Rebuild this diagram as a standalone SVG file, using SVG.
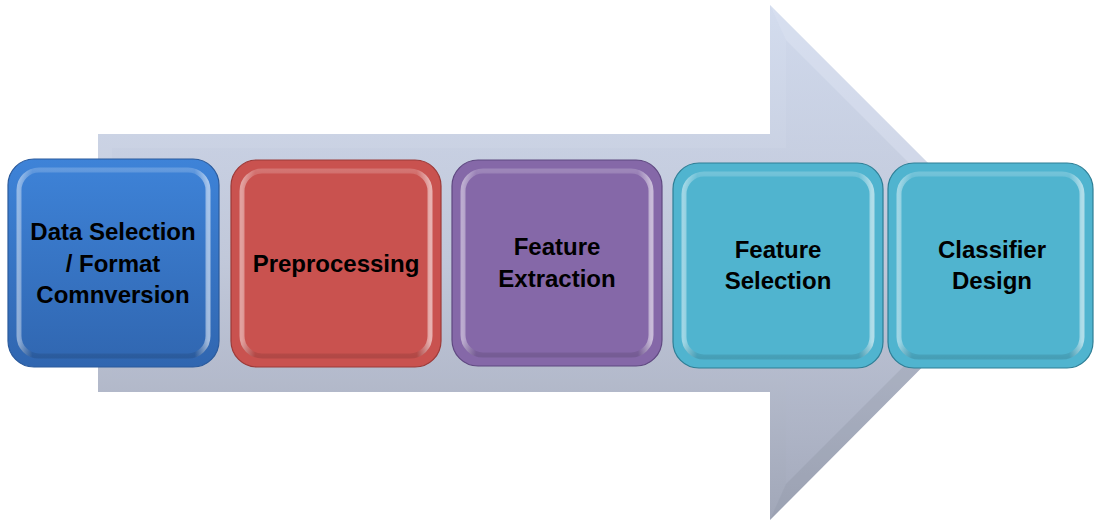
<svg xmlns="http://www.w3.org/2000/svg" width="1094" height="520" viewBox="0 0 1094 520">
<defs>
<linearGradient id="arrowG" x1="0" y1="0" x2="0" y2="1">
<stop offset="0" stop-color="#d3dcee"/>
<stop offset="0.5" stop-color="#c3cadb"/>
<stop offset="1" stop-color="#a1a7b8"/>
</linearGradient>
<linearGradient id="arrowIn" x1="0" y1="0" x2="0" y2="1">
<stop offset="0" stop-color="#cdd6e9"/>
<stop offset="0.5" stop-color="#c0c7d9"/>
<stop offset="1" stop-color="#a8aec0"/>
</linearGradient>
<linearGradient id="blueG" x1="0" y1="0" x2="0" y2="1">
<stop offset="0" stop-color="#3e83d8"/>
<stop offset="1" stop-color="#3066b0"/>
</linearGradient>
<linearGradient id="rim" x1="0" y1="0" x2="1" y2="0">
<stop offset="0" stop-color="#ffffff" stop-opacity="0.45"/>
<stop offset="0.07" stop-color="#ffffff" stop-opacity="0"/>
<stop offset="0.93" stop-color="#ffffff" stop-opacity="0"/>
<stop offset="1" stop-color="#ffffff" stop-opacity="0.55"/>
</linearGradient>
<linearGradient id="rimV" x1="0" y1="0" x2="0" y2="1">
<stop offset="0" stop-color="#ffffff" stop-opacity="0.2"/>
<stop offset="0.08" stop-color="#ffffff" stop-opacity="0"/>
<stop offset="0.92" stop-color="#000000" stop-opacity="0"/>
<stop offset="1" stop-color="#000000" stop-opacity="0.12"/>
</linearGradient>
</defs>
<style>
.outer{stroke-width:1.2}
.txt{font-family:"Liberation Sans",Arial,sans-serif;font-weight:bold;font-size:24px;fill:#000;text-anchor:middle}
.rimH{fill:none;stroke:url(#rim);stroke-width:5}
.rimV{fill:none;stroke:url(#rimV);stroke-width:5}
</style>
<g id="arrow">
<polygon points="98,134 770,134 770,5 1027,262 770,520 770,392 98,392" fill="url(#arrowG)"/>
<polygon points="112,148 786,148 786,40 1008,262 786,484 786,378 112,378" fill="url(#arrowIn)" opacity="0.8"/>
<polygon points="770,5 786,40 1008,262 1027,262" fill="#dfe6f4" opacity="0.35"/>
<polygon points="770,520 786,484 1008,262 1027,262" fill="#8e94a6" opacity="0.3"/>
</g>
<g id="connectors"></g>
<g id="node1">
<rect class="outer" x="8" y="159" width="211" height="208" rx="26" fill="url(#blueG)" stroke="#2a5a9c"/>
<rect class="rimH" x="19" y="170" width="189" height="186" rx="20"/>
<rect class="rimV" x="19" y="170" width="189" height="186" rx="20"/>
<text class="txt" x="113" y="240">Data Selection</text>
<text class="txt" x="113" y="272">/ Format</text>
<text class="txt" x="113" y="303">Comnversion</text>
</g>
<g id="node2">
<rect class="outer" x="231" y="160" width="210" height="207" rx="26" fill="#c9524f" stroke="#9c3a38"/>
<rect class="rimH" x="242" y="171" width="188" height="185" rx="20"/>
<rect class="rimV" x="242" y="171" width="188" height="185" rx="20"/>
<text class="txt" x="336" y="272">Preprocessing</text>
</g>
<g id="node3">
<rect class="outer" x="452" y="160" width="210" height="206" rx="26" fill="#8568a8" stroke="#5f4880"/>
<rect class="rimH" x="463" y="171" width="188" height="184" rx="20"/>
<rect class="rimV" x="463" y="171" width="188" height="184" rx="20"/>
<text class="txt" x="557" y="255">Feature</text>
<text class="txt" x="557" y="287">Extraction</text>
</g>
<g id="node4">
<rect class="outer" x="673" y="163" width="210" height="205" rx="26" fill="#50b4cf" stroke="#2e7e95"/>
<rect class="rimH" x="684" y="174" width="188" height="183" rx="20"/>
<rect class="rimV" x="684" y="174" width="188" height="183" rx="20"/>
<text class="txt" x="778" y="258">Feature</text>
<text class="txt" x="778" y="289">Selection</text>
</g>
<g id="node5">
<rect class="outer" x="888" y="163" width="205" height="205" rx="26" fill="#50b4cf" stroke="#2e7e95"/>
<rect class="rimH" x="899" y="174" width="183" height="183" rx="20"/>
<rect class="rimV" x="899" y="174" width="183" height="183" rx="20"/>
<text class="txt" x="992" y="258">Classifier</text>
<text class="txt" x="992" y="289">Design</text>
</g>
</svg>
